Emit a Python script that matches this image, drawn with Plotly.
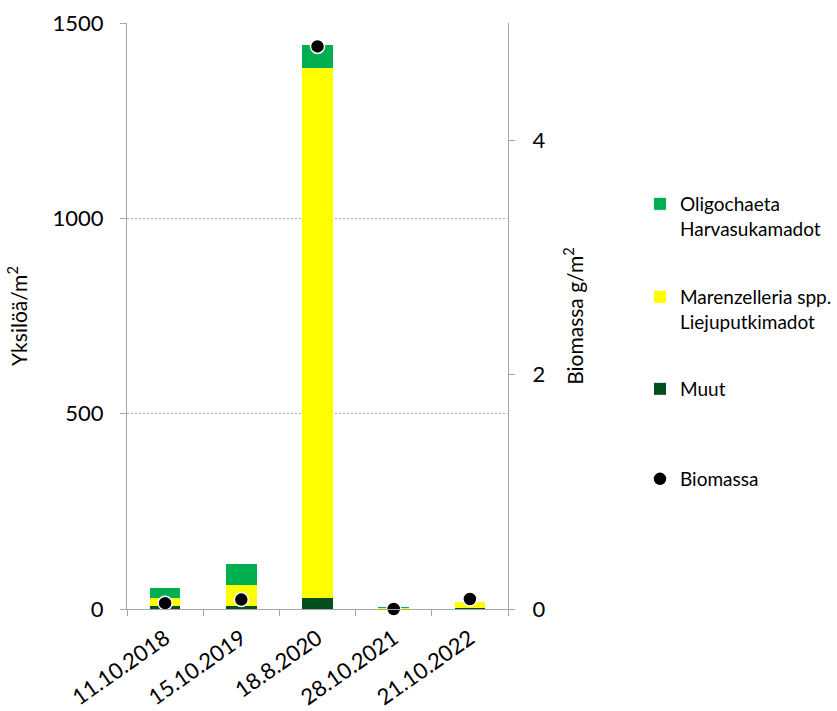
import plotly.graph_objects as go

# Sampling dates
dates = ["11.10.2018", "15.10.2019", "18.8.2020", "28.10.2021", "21.10.2022"]

# Abundance (individuals / m2) by group
muut = [8, 8, 28, 2, 2]
marenzelleria = [21, 54, 1357, 2, 16]
oligochaeta = [25, 53, 58, 1, 0]

# Total biomass (g / m2)
biomassa = [0.05, 0.08, 4.80, 0.0, 0.085]

FONT = "Lato, 'Open Sans', sans-serif"
AXIS_GREY = "#A6A6A6"
W, H = 837, 711
LEG_X = 640 / W

fig = go.Figure()

fig.add_trace(go.Bar(
    x=dates, y=muut, name="Muut",
    marker=dict(color="#03501F", line=dict(width=0)),
    legend="legend3",
))
fig.add_trace(go.Bar(
    x=dates, y=marenzelleria, name="Marenzelleria spp.<br>Liejuputkimadot",
    marker=dict(color="#FFFF00", line=dict(width=0)),
    legend="legend2",
))
fig.add_trace(go.Bar(
    x=dates, y=oligochaeta, name="Oligochaeta<br>Harvasukamadot",
    marker=dict(color="#00B050", line=dict(width=0)),
    legend="legend",
))
fig.add_trace(go.Scatter(
    x=dates, y=biomassa, name="Biomassa", yaxis="y2", mode="markers",
    marker=dict(color="black", size=14, line=dict(color="white", width=1.5)),
    legend="legend4", cliponaxis=False,
))


def legend_at(top_px):
    # legend placed in container pixels so it never squeezes the plot area
    return dict(
        xref="container", yref="container",
        x=LEG_X, y=1 - top_px / H, xanchor="left", yanchor="top", valign="top",
        font=dict(size=19), itemwidth=30, bgcolor="rgba(0,0,0,0)",
    )


fig.update_layout(
    width=W, height=H,
    margin=dict(l=127, r=329, t=23, b=102, autoexpand=False),
    paper_bgcolor="white", plot_bgcolor="white",
    barmode="stack", bargap=0.6,
    font=dict(family=FONT, size=22, color="black"),
    showlegend=True,
    legend=legend_at(185),
    legend2=legend_at(278),
    legend3=legend_at(370),
    legend4=legend_at(460),
    xaxis=dict(
        type="category", tickangle=-35, tickson="boundaries",
        ticks="outside", ticklen=6, tickcolor=AXIS_GREY,
        showline=True, linecolor=AXIS_GREY, linewidth=1,
        showgrid=False, tickfont=dict(size=22), automargin=False,
        ticklabelstandoff=7,
    ),
    yaxis=dict(
        range=[0, 1500], tickvals=[0, 500, 1000, 1500],
        ticks="outside", ticklen=6, tickcolor=AXIS_GREY,
        showline=True, linecolor=AXIS_GREY, linewidth=1,
        showgrid=True, gridcolor="#B0B0B0", griddash="2px,2px", gridwidth=1,
        zeroline=False, tickfont=dict(size=22), automargin=False,
        ticklabelstandoff=12,
        title=dict(text="Yksilöä/m<sup>2</sup>", font=dict(size=21), standoff=19),
    ),
    yaxis2=dict(
        overlaying="y", side="right", range=[0, 5], tickvals=[0, 2, 4],
        ticks="outside", ticklen=6, tickcolor=AXIS_GREY,
        showline=True, linecolor=AXIS_GREY, linewidth=1,
        showgrid=False, zeroline=False, tickfont=dict(size=22), automargin=False,
        ticklabelstandoff=13,
        title=dict(text="Biomassa g/m<sup>2</sup>", font=dict(size=21), standoff=23),
    ),
)

fig.write_html("out.html")
